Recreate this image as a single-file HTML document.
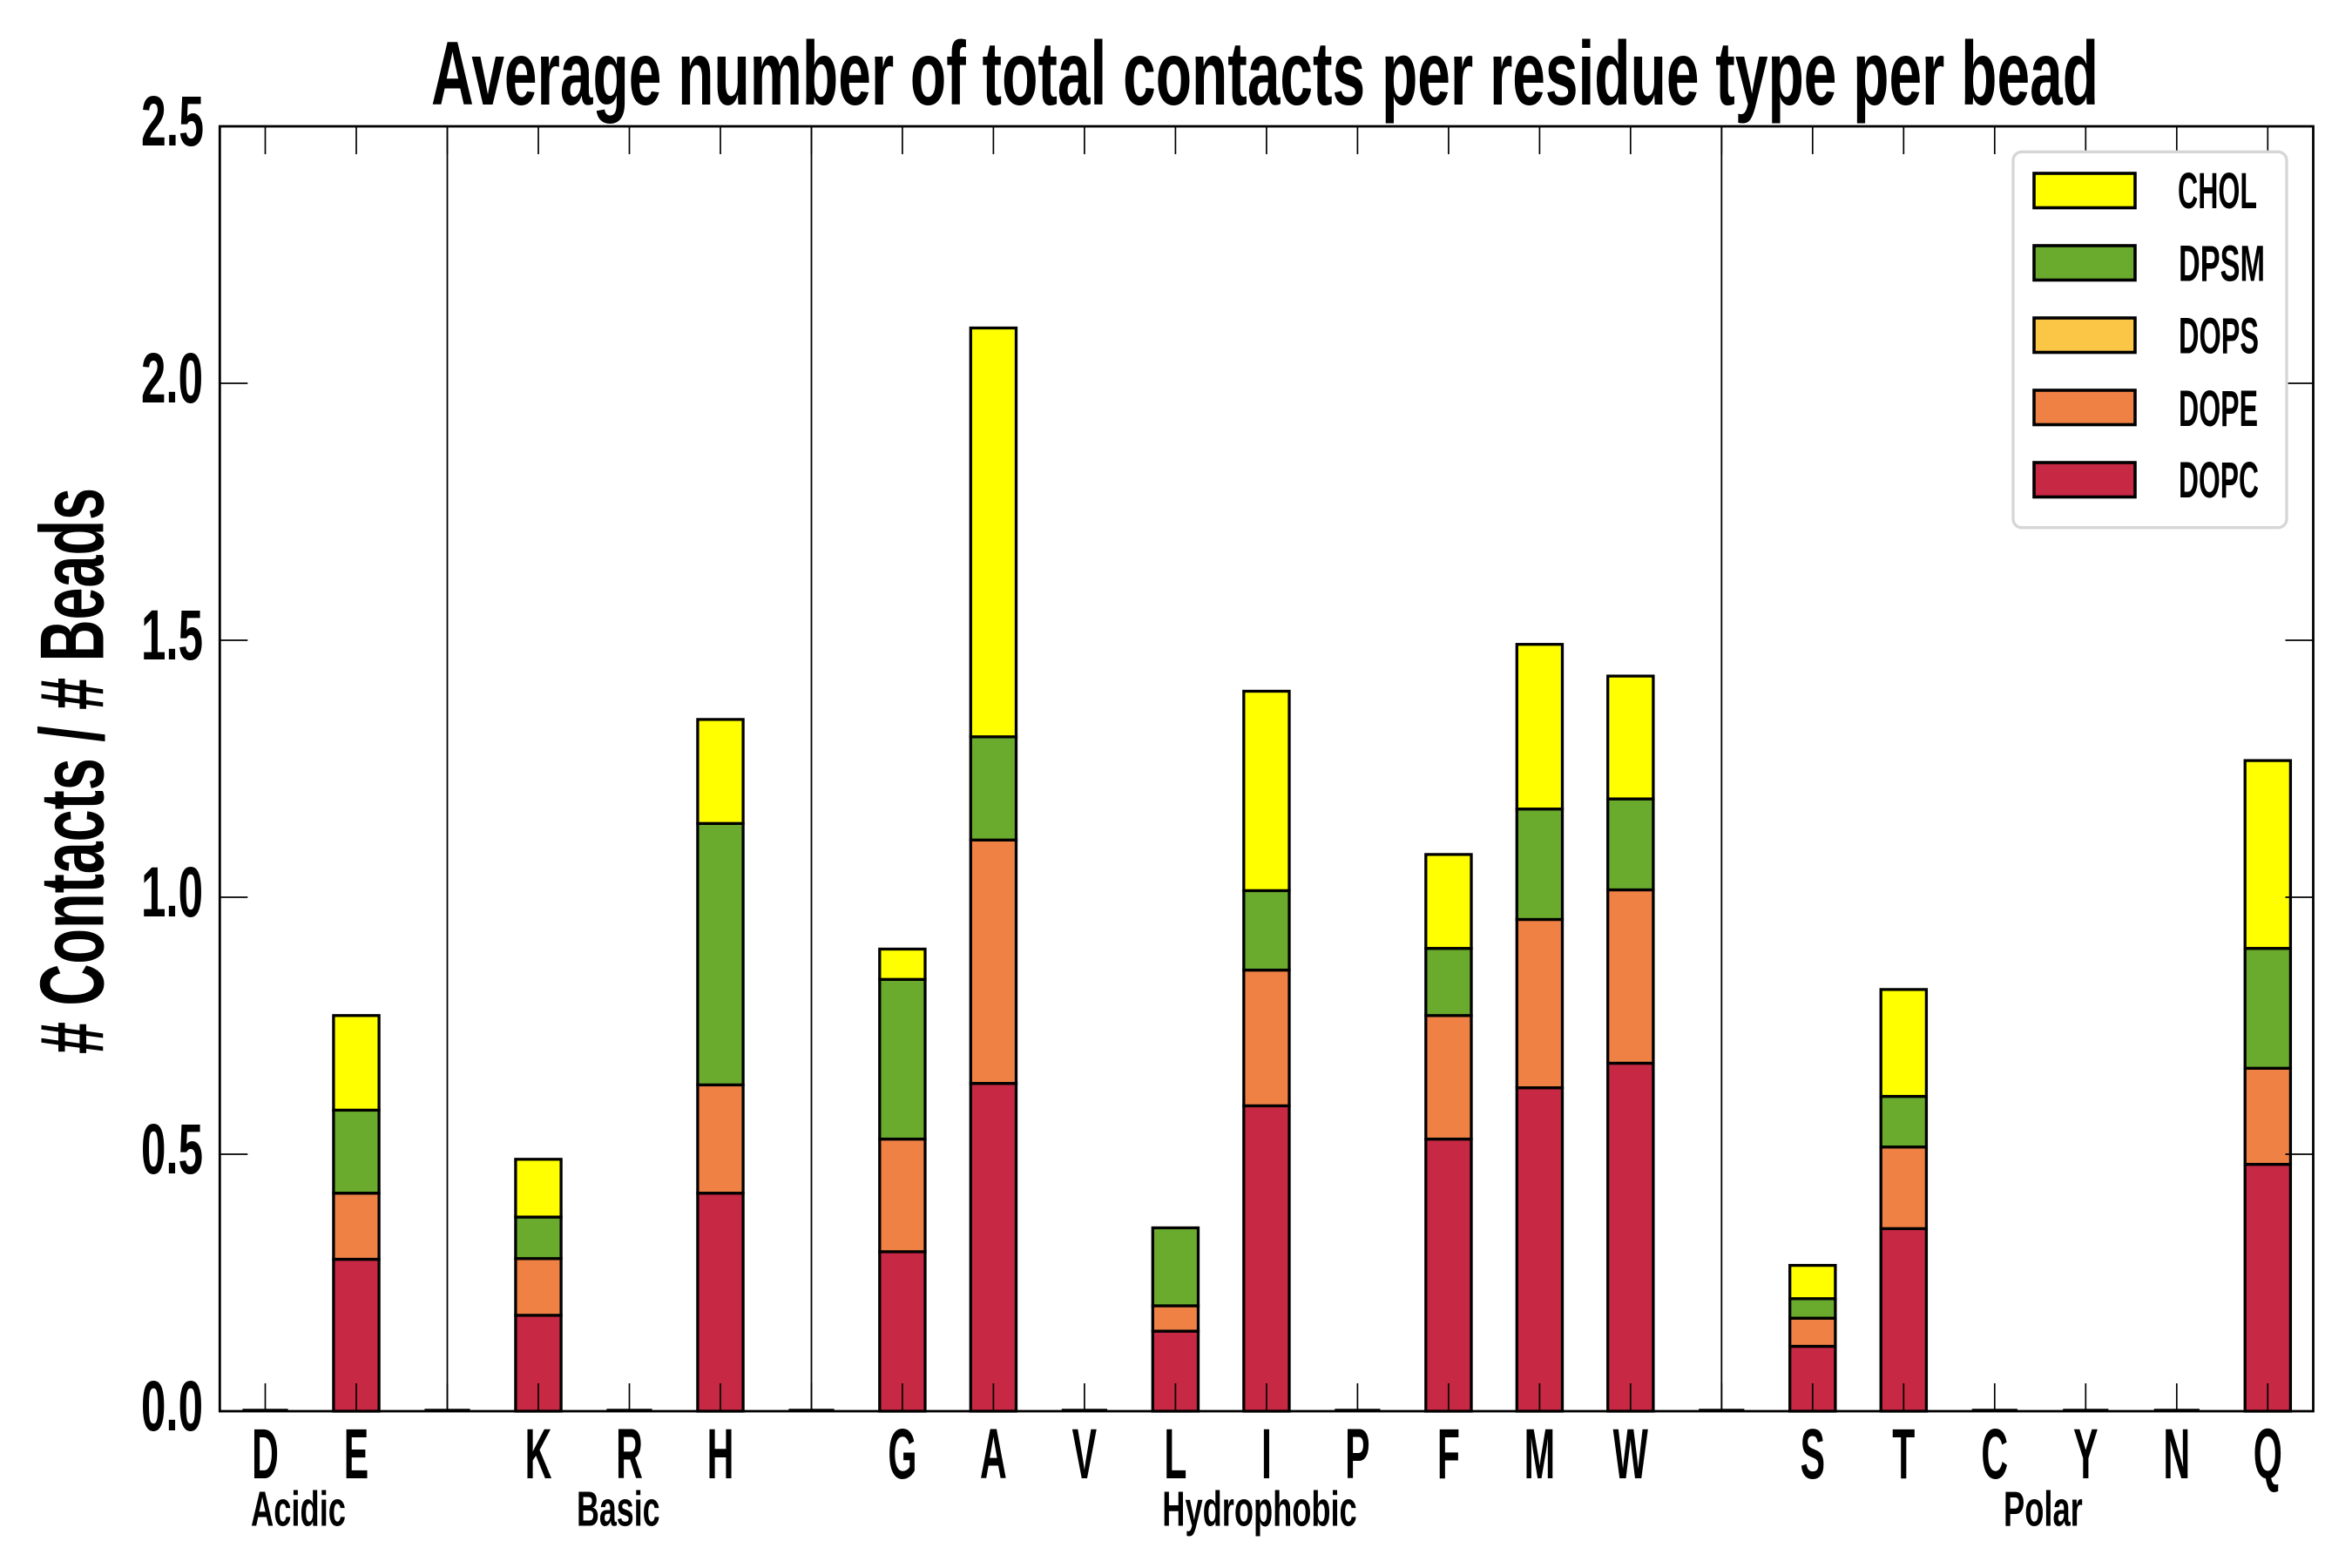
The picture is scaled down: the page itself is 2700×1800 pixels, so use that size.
<!DOCTYPE html>
<html>
<head>
<meta charset="utf-8">
<style>
html,body{margin:0;padding:0;background:#fff;}
svg{display:block;}
text{font-family:"Liberation Sans Narrow","Liberation Sans",sans-serif;font-weight:bold;fill:#000;}
</style>
</head>
<body>
<svg xmlns="http://www.w3.org/2000/svg" width="2700" height="1800" viewBox="0 0 2700 1800">
<rect x="0" y="0" width="2700" height="1800" fill="#fff"/>

<!-- Title -->
<text x="495" y="120" font-size="104" textLength="1914" lengthAdjust="spacingAndGlyphs">Average number of total contacts per residue type per bead</text>

<!-- Y label -->
<text transform="translate(118.3,885) rotate(-90)" text-anchor="middle" font-size="104" textLength="650" lengthAdjust="spacingAndGlyphs"># Contacts / # Beads</text>

<!-- Y tick labels -->
<g font-size="82">
<text x="162" y="1642" textLength="71" lengthAdjust="spacingAndGlyphs">0.0</text>
<text x="162" y="1347" textLength="71" lengthAdjust="spacingAndGlyphs">0.5</text>
<text x="162" y="1052" textLength="71" lengthAdjust="spacingAndGlyphs">1.0</text>
<text x="162" y="757" textLength="71" lengthAdjust="spacingAndGlyphs">1.5</text>
<text x="162" y="462" textLength="71" lengthAdjust="spacingAndGlyphs">2.0</text>
<text x="162" y="167" textLength="72" lengthAdjust="spacingAndGlyphs">2.5</text>
</g>

<!-- separators -->
<g stroke="#000" stroke-width="1.8">
<line x1="513.5" y1="145" x2="513.5" y2="1620"/>
<line x1="931.5" y1="145" x2="931.5" y2="1620"/>
<line x1="1976.3" y1="145" x2="1976.3" y2="1620"/>
</g>

<!-- zero bars -->
<g stroke="#000" stroke-width="2.5">
<line x1="278.4" y1="1618.5" x2="330.6" y2="1618.5"/>
<line x1="487.4" y1="1618.5" x2="539.6" y2="1618.5"/>
<line x1="696.4" y1="1618.5" x2="748.6" y2="1618.5"/>
<line x1="905.4" y1="1618.5" x2="957.6" y2="1618.5"/>
<line x1="1218.8" y1="1618.5" x2="1271.0" y2="1618.5"/>
<line x1="1532.3" y1="1618.5" x2="1584.5" y2="1618.5"/>
<line x1="1950.2" y1="1618.5" x2="2002.4" y2="1618.5"/>
<line x1="2263.7" y1="1618.5" x2="2315.9" y2="1618.5"/>
<line x1="2368.2" y1="1618.5" x2="2420.4" y2="1618.5"/>
<line x1="2472.7" y1="1618.5" x2="2524.9" y2="1618.5"/>
</g>

<!-- Bars -->
<g stroke="#000" stroke-width="3.3">
<!-- E c=409.0 -->
<rect x="382.9" y="1445.6" width="52.2" height="174.4" fill="#c72843"/>
<rect x="382.9" y="1369.7" width="52.2" height="75.9" fill="#ef8145"/>
<rect x="382.9" y="1274.4" width="52.2" height="95.3" fill="#6aab2e"/>
<rect x="382.9" y="1165.8" width="52.2" height="108.6" fill="#ffff00"/>
<!-- K c=618.0 -->
<rect x="591.9" y="1509.9" width="52.2" height="110.1" fill="#c72843"/>
<rect x="591.9" y="1444.8" width="52.2" height="65.1" fill="#ef8145"/>
<rect x="591.9" y="1397.1" width="52.2" height="47.7" fill="#6aab2e"/>
<rect x="591.9" y="1330.8" width="52.2" height="66.3" fill="#ffff00"/>
<!-- H c=827.0 -->
<rect x="800.9" y="1369.7" width="52.2" height="250.3" fill="#c72843"/>
<rect x="800.9" y="1245.4" width="52.2" height="124.3" fill="#ef8145"/>
<rect x="800.9" y="945.3" width="52.2" height="300.1" fill="#6aab2e"/>
<rect x="800.9" y="825.9" width="52.2" height="119.4" fill="#ffff00"/>
<!-- G c=1035.9 -->
<rect x="1009.8" y="1436.9" width="52.2" height="183.1" fill="#c72843"/>
<rect x="1009.8" y="1307.6" width="52.2" height="129.3" fill="#ef8145"/>
<rect x="1009.8" y="1124.3" width="52.2" height="183.3" fill="#6aab2e"/>
<rect x="1009.8" y="1089.5" width="52.2" height="34.8" fill="#ffff00"/>
<!-- A c=1140.4 -->
<rect x="1114.3" y="1243.7" width="52.2" height="376.3" fill="#c72843"/>
<rect x="1114.3" y="964.3" width="52.2" height="279.4" fill="#ef8145"/>
<rect x="1114.3" y="845.8" width="52.2" height="118.5" fill="#6aab2e"/>
<rect x="1114.3" y="376.5" width="52.2" height="469.3" fill="#ffff00"/>
<!-- L c=1349.4 -->
<rect x="1323.3" y="1528.1" width="52.2" height="91.9" fill="#c72843"/>
<rect x="1323.3" y="1499.0" width="52.2" height="29.1" fill="#ef8145"/>
<rect x="1323.3" y="1409.5" width="52.2" height="89.5" fill="#6aab2e"/>
<!-- I c=1453.9 -->
<rect x="1427.8" y="1269.4" width="52.2" height="350.6" fill="#c72843"/>
<rect x="1427.8" y="1113.6" width="52.2" height="155.8" fill="#ef8145"/>
<rect x="1427.8" y="1022.4" width="52.2" height="91.2" fill="#6aab2e"/>
<rect x="1427.8" y="793.5" width="52.2" height="228.9" fill="#ffff00"/>
<!-- F c=1662.9 -->
<rect x="1636.8" y="1307.6" width="52.2" height="312.4" fill="#c72843"/>
<rect x="1636.8" y="1165.8" width="52.2" height="141.8" fill="#ef8145"/>
<rect x="1636.8" y="1088.7" width="52.2" height="77.1" fill="#6aab2e"/>
<rect x="1636.8" y="980.9" width="52.2" height="107.8" fill="#ffff00"/>
<!-- M c=1767.4 -->
<rect x="1741.3" y="1248.7" width="52.2" height="371.3" fill="#c72843"/>
<rect x="1741.3" y="1055.5" width="52.2" height="193.2" fill="#ef8145"/>
<rect x="1741.3" y="928.7" width="52.2" height="126.8" fill="#6aab2e"/>
<rect x="1741.3" y="739.7" width="52.2" height="189.0" fill="#ffff00"/>
<!-- W c=1871.8 -->
<rect x="1845.7" y="1220.5" width="52.2" height="399.5" fill="#c72843"/>
<rect x="1845.7" y="1021.5" width="52.2" height="199.0" fill="#ef8145"/>
<rect x="1845.7" y="917.1" width="52.2" height="104.4" fill="#6aab2e"/>
<rect x="1845.7" y="776.1" width="52.2" height="141.0" fill="#ffff00"/>
<!-- S c=2080.8 -->
<rect x="2054.7" y="1545.5" width="52.2" height="74.5" fill="#c72843"/>
<rect x="2054.7" y="1513.2" width="52.2" height="32.3" fill="#ef8145"/>
<rect x="2054.7" y="1490.8" width="52.2" height="22.4" fill="#6aab2e"/>
<rect x="2054.7" y="1452.6" width="52.2" height="38.2" fill="#ffff00"/>
<!-- T c=2185.3 -->
<rect x="2159.2" y="1410.4" width="52.2" height="209.6" fill="#c72843"/>
<rect x="2159.2" y="1316.7" width="52.2" height="93.7" fill="#ef8145"/>
<rect x="2159.2" y="1258.6" width="52.2" height="58.1" fill="#6aab2e"/>
<rect x="2159.2" y="1135.9" width="52.2" height="122.7" fill="#ffff00"/>
<!-- Q c=2603.3 -->
<rect x="2577.2" y="1336.6" width="52.2" height="283.4" fill="#c72843"/>
<rect x="2577.2" y="1226.3" width="52.2" height="110.3" fill="#ef8145"/>
<rect x="2577.2" y="1088.7" width="52.2" height="137.6" fill="#6aab2e"/>
<rect x="2577.2" y="873.1" width="52.2" height="215.6" fill="#ffff00"/>
</g>

<!-- Ticks -->
<g stroke="#000" stroke-width="1.7">
<!-- bottom & top ticks at each slot -->
<path d="M304.5 1620V1588M409.0 1620V1588M513.5 1620V1588M618.0 1620V1588M722.5 1620V1588M827.0 1620V1588M931.5 1620V1588M1035.9 1620V1588M1140.4 1620V1588M1244.9 1620V1588M1349.4 1620V1588M1453.9 1620V1588M1558.4 1620V1588M1662.9 1620V1588M1767.4 1620V1588M1871.8 1620V1588M1976.3 1620V1588M2080.8 1620V1588M2185.3 1620V1588M2289.8 1620V1588M2394.3 1620V1588M2498.8 1620V1588M2603.3 1620V1588"/>
<path d="M304.5 145V177M409.0 145V177M513.5 145V177M618.0 145V177M722.5 145V177M827.0 145V177M931.5 145V177M1035.9 145V177M1140.4 145V177M1244.9 145V177M1349.4 145V177M1453.9 145V177M1558.4 145V177M1662.9 145V177M1767.4 145V177M1871.8 145V177M1976.3 145V177M2080.8 145V177M2185.3 145V177M2289.8 145V177M2394.3 145V177M2498.8 145V177M2603.3 145V177"/>
<!-- left & right ticks -->
<path d="M252.3 1325H284.3M252.3 1030H284.3M252.3 735H284.3M252.3 440H284.3"/>
<path d="M2655.5 1325H2623.5M2655.5 1030H2623.5M2655.5 735H2623.5M2655.5 440H2623.5"/>
</g>

<!-- Legend -->
<rect x="2311" y="174.3" width="314" height="431.4" rx="10" ry="10" fill="#fff" stroke="#d6d6d6" stroke-width="3.3"/>
<g stroke="#000" stroke-width="3.6">
<rect x="2335" y="199" width="116" height="39.5" fill="#ffff00"/>
<rect x="2335" y="282" width="116" height="39.5" fill="#6aab2e"/>
<rect x="2335" y="365" width="116" height="39.5" fill="#fbc545"/>
<rect x="2335" y="448" width="116" height="39.5" fill="#ef8145"/>
<rect x="2335" y="531" width="116" height="39.5" fill="#c72843"/>
</g>
<g font-size="58">
<text x="2500" y="239" textLength="91" lengthAdjust="spacingAndGlyphs">CHOL</text>
<text x="2501" y="322.5" textLength="99" lengthAdjust="spacingAndGlyphs">DPSM</text>
<text x="2501" y="405.5" textLength="92" lengthAdjust="spacingAndGlyphs">DOPS</text>
<text x="2501" y="489" textLength="91" lengthAdjust="spacingAndGlyphs">DOPE</text>
<text x="2501" y="571" textLength="92" lengthAdjust="spacingAndGlyphs">DOPC</text>
</g>

<!-- Axes spines -->
<rect x="252.3" y="145" width="2403.2" height="1475" fill="none" stroke="#000" stroke-width="2.8"/>

<!-- X tick labels -->
<g font-size="82" text-anchor="middle">
<text transform="translate(304.5,1697) scale(0.52,1)">D</text>
<text transform="translate(409.0,1697) scale(0.52,1)">E</text>
<text transform="translate(618.0,1697) scale(0.52,1)">K</text>
<text transform="translate(722.5,1697) scale(0.52,1)">R</text>
<text transform="translate(827.0,1697) scale(0.52,1)">H</text>
<text transform="translate(1035.9,1697) scale(0.52,1)">G</text>
<text transform="translate(1140.4,1697) scale(0.52,1)">A</text>
<text transform="translate(1244.9,1697) scale(0.52,1)">V</text>
<text transform="translate(1349.4,1697) scale(0.52,1)">L</text>
<text transform="translate(1453.9,1697) scale(0.52,1)">I</text>
<text transform="translate(1558.4,1697) scale(0.52,1)">P</text>
<text transform="translate(1662.9,1697) scale(0.52,1)">F</text>
<text transform="translate(1767.4,1697) scale(0.52,1)">M</text>
<text transform="translate(1871.8,1697) scale(0.52,1)">W</text>
<text transform="translate(2080.8,1697) scale(0.52,1)">S</text>
<text transform="translate(2185.3,1697) scale(0.52,1)">T</text>
<text transform="translate(2289.8,1697) scale(0.52,1)">C</text>
<text transform="translate(2394.3,1697) scale(0.52,1)">Y</text>
<text transform="translate(2498.8,1697) scale(0.52,1)">N</text>
<text transform="translate(2603.3,1697) scale(0.52,1)">Q</text>
</g>

<!-- Group labels -->
<g font-size="57">
<text x="288" y="1751.5" textLength="109" lengthAdjust="spacingAndGlyphs">Acidic</text>
<text x="662" y="1751.5" textLength="95.6" lengthAdjust="spacingAndGlyphs">Basic</text>
<text x="1334.3" y="1751.5" textLength="223.4" lengthAdjust="spacingAndGlyphs">Hydrophobic</text>
<text x="2300" y="1751.5" textLength="90.8" lengthAdjust="spacingAndGlyphs">Polar</text>
</g>
</svg>
</body>
</html>
